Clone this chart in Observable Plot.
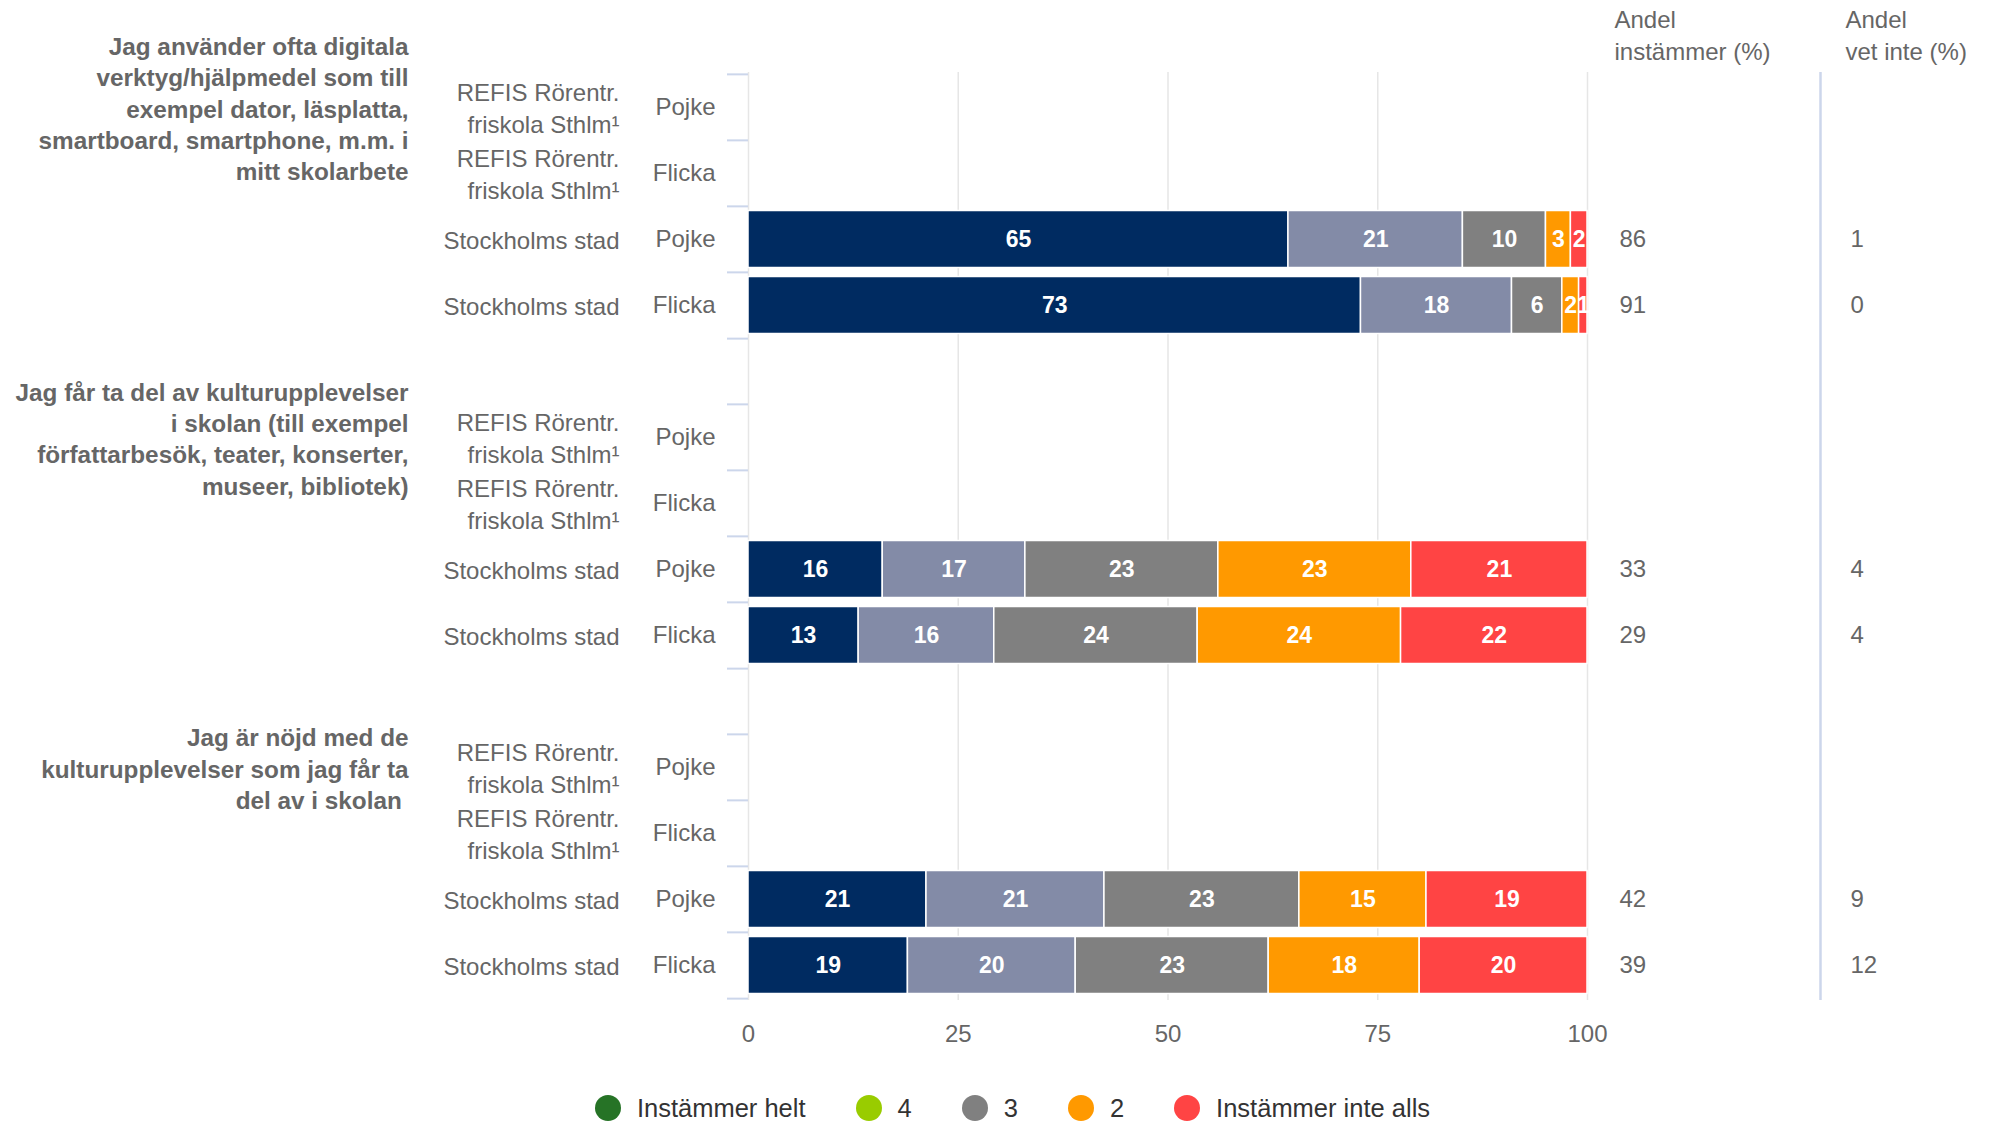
<!DOCTYPE html>
<html><head><meta charset="utf-8">
<script src="https://cdn.jsdelivr.net/npm/d3@7"></script>
<script src="https://cdn.jsdelivr.net/npm/@observablehq/plot@0.6"></script>
<style>
body{margin:0;background:#fff;font-family:"Liberation Sans",Arial,sans-serif;}
#legend{display:flex;justify-content:center;align-items:center;height:34px;padding-top:16px;padding-left:31px;font-size:25.5px;color:#333;}
.item{display:flex;align-items:center;margin:0 25px;}
.sw{width:26px;height:26px;border-radius:50%;margin-right:16px;}
</style></head><body><div id="chart"></div><div id="legend"></div>
<script>
const questions = [
  "Jag använder ofta digitala\nverktyg/hjälpmedel som till\nexempel dator, läsplatta,\nsmartboard, smartphone, m.m. i\nmitt skolarbete",
  "Jag får ta del av kulturupplevelser\ni skolan (till exempel\nförfattarbesök, teater, konserter,\nmuseer, bibliotek)",
  "Jag är nöjd med de\nkulturupplevelser som jag får ta\ndel av i skolan\u00a0"
];
const schools = ["REFIS Rörentr.\nfriskola Sthlm¹", "REFIS Rörentr.\nfriskola Sthlm¹", "Stockholms stad", "Stockholms stad"];
const genders = ["Pojke", "Flicka", "Pojke", "Flicka"];
const categories = ["Instämmer helt", "4", "3", "2", "Instämmer inte alls"];
const barColors = ["#002b61", "#838ba7", "#808080", "#ff9900", "#ff4444"];
const legendColors = ["#267326", "#99cc00", "#808080", "#ff9900", "#ff4444"];
// Stockholms stad values per question, in category order
const stockholmPojke = [[65, 21, 10, 3, 2], [16, 17, 23, 23, 21], [21, 21, 23, 15, 19]];
const stockholmFlicka = [[73, 18, 6, 2, 1], [13, 16, 24, 24, 22], [19, 20, 23, 18, 20]];
const andelInstammer = [[null, null, 86, 91], [null, null, 33, 29], [null, null, 42, 39]];
const andelVetInte = [[null, null, 1, 0], [null, null, 4, 4], [null, null, 9, 12]];
const columnHeaders = ["Andel\ninstämmer (%)", "Andel\nvet inte (%)"];
const xTicks = [0, 25, 50, 75, 100];

// build rows
const rows = [];
const domain = [];
questions.forEach((q, qi) => {
  for (let r = 0; r < 4; r++) {
    const key = `q${qi}r${r}`;
    domain.push(key);
    rows.push({key, qi, r, question: r === 0 ? q : null, school: schools[r], gender: genders[r],
      inst: andelInstammer[qi][r], vet: andelVetInte[qi][r], last: r === 3});
  }
  if (qi < questions.length - 1) domain.push(`spacer${qi}`);
});
const barData = [];
questions.forEach((q, qi) => {
  [[2, stockholmPojke[qi]], [3, stockholmFlicka[qi]]].forEach(([r, vals]) => {
    vals.forEach((v, ci) => barData.push({key: `q${qi}r${r}`, category: categories[ci], value: v}));
  });
});

const W = 1994, H = 1075, mL = 748, mR = 407, mT = 72, mB = 75;
const bw = (H - mT - mB) / domain.length;
const plotW = W - mL - mR;

const chart = Plot.plot({
  width: W, height: H,
  marginLeft: mL, marginRight: mR, marginTop: mT, marginBottom: mB,
  style: {fontFamily: "Liberation Sans, Arial, sans-serif", fontSize: "24px", background: "white"},
  x: {domain: [0, 1], axis: null},
  y: {type: "band", domain, padding: 0, axis: null},
  color: {domain: categories, range: barColors},
  marks: [
    Plot.gridX(xTicks.map(d => d / 100), {stroke: "#e6e6e6", strokeOpacity: 1, strokeWidth: 1.5}),
    Plot.ruleX([1], {dx: 233, stroke: "#ccd6eb", strokeWidth: 2.5}),
    Plot.tickY(rows, {y: "key", dy: -bw / 2, dx: -21, insetRight: plotW - 21, stroke: "#ccd6eb", strokeWidth: 2}),
    Plot.tickY(rows.filter(d => d.last), {y: "key", dy: bw / 2, dx: -21, insetRight: plotW - 21, stroke: "#ccd6eb", strokeWidth: 2}),
    Plot.barX(barData, Plot.stackX({offset: "normalize", x: "value", y: "key", fill: "category",
      stroke: "white", strokeWidth: 1.5, insetTop: 4.5, insetBottom: 4.5})),
    Plot.text(barData, Plot.stackX({offset: "normalize", x: "value", y: "key", z: "category",
      text: d => String(d.value), fill: "white", fontWeight: "bold", fontSize: 23})),
    Plot.text(rows, {y: "key", text: "gender", frameAnchor: "left", textAnchor: "end", dx: -33, fill: "#666", fontSize: 24}),
    Plot.text(rows, {y: "key", text: "school", frameAnchor: "left", textAnchor: "end", dx: -129, dy: -0.5, fill: "#666", fontSize: 24, lineHeight: 1.3}),
    Plot.text(rows.filter(d => d.question), {y: "key", text: "question", frameAnchor: "left", textAnchor: "end", dx: -340,
      fill: "#666", fontSize: 24.3, fontWeight: "bold", lineHeight: 1.29}),
    Plot.text(rows.filter(d => d.inst != null), {y: "key", text: d => String(d.inst), frameAnchor: "right", textAnchor: "start", dx: 32, fill: "#666", fontSize: 24}),
    Plot.text(rows.filter(d => d.vet != null), {y: "key", text: d => String(d.vet), frameAnchor: "right", textAnchor: "start", dx: 263, fill: "#666", fontSize: 24}),
    Plot.text([columnHeaders[0]], {text: d => d, frameAnchor: "top-right", textAnchor: "start", lineAnchor: "middle", dx: 27, dy: -39, fill: "#666", fontSize: 24, lineHeight: 1.37}),
    Plot.text([columnHeaders[1]], {text: d => d, frameAnchor: "top-right", textAnchor: "start", lineAnchor: "middle", dx: 258, dy: -39, fill: "#666", fontSize: 24, lineHeight: 1.37}),
    Plot.axisX({ticks: xTicks.map(d => d / 100), tickFormat: d => String(Math.round(d * 100)), tickSize: 0, tickPadding: 24, fontSize: 24, color: "#666", label: null})
  ]
});
document.getElementById("chart").appendChild(chart);

const legend = document.getElementById("legend");
categories.forEach((c, i) => {
  const item = document.createElement("div");
  item.className = "item";
  const sw = document.createElement("span");
  sw.className = "sw";
  sw.style.background = legendColors[i];
  const t = document.createElement("span");
  t.textContent = c;
  item.appendChild(sw); item.appendChild(t);
  legend.appendChild(item);
});
</script></body></html>
